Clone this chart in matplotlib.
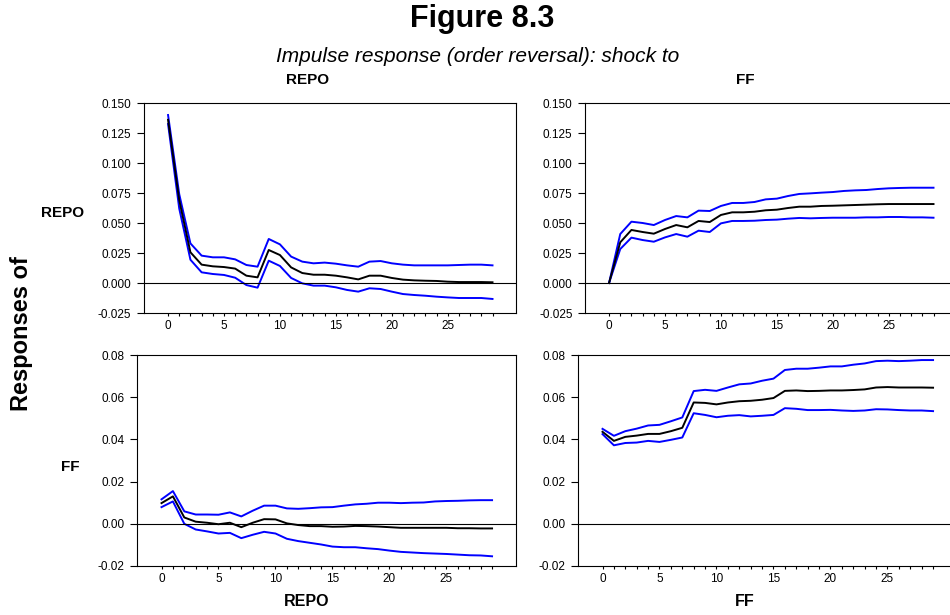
import matplotlib
matplotlib.use('Agg')
import matplotlib.pyplot as plt
from matplotlib.ticker import MultipleLocator, FormatStrFormatter

plt.rcParams['font.family'] = ['Liberation Sans', 'DejaVu Sans']
plt.rcParams['axes.unicode_minus'] = False

periods = list(range(30))

# response of REPO to REPO shock
repo_repo = [0.136, 0.069, 0.0256, 0.0153, 0.0139, 0.0133, 0.012, 0.0061, 0.0047, 0.0275,
             0.0233, 0.013, 0.0083, 0.0069, 0.0069, 0.0061, 0.0047, 0.003, 0.0061, 0.0061,
             0.0042, 0.0028, 0.0022, 0.0019, 0.0017, 0.0011, 0.0008, 0.0008, 0.0008, 0.0006]
repo_repo_hi = [0.140, 0.074, 0.033, 0.0228, 0.0214, 0.0214, 0.0197, 0.015, 0.0136, 0.0367,
                0.0322, 0.022, 0.0178, 0.0164, 0.017, 0.0161, 0.0147, 0.0136, 0.0178, 0.0183,
                0.0164, 0.0153, 0.0147, 0.0147, 0.0147, 0.0147, 0.015, 0.0153, 0.0153, 0.0147]
repo_repo_lo = [0.1325, 0.062, 0.0194, 0.0089, 0.0075, 0.0067, 0.0044, -0.0017, -0.0039, 0.0186,
                0.0142, 0.0042, -0.0003, -0.0022, -0.0022, -0.0036, -0.0058, -0.0072, -0.0044, -0.005,
                -0.0072, -0.0092, -0.01, -0.0106, -0.0114, -0.012, -0.0125, -0.0125, -0.0125, -0.0133]

# response of REPO to FF shock
repo_ff = [0.0, 0.0339, 0.0442, 0.0425, 0.0411, 0.045, 0.0483, 0.0464, 0.0517, 0.0508,
           0.0567, 0.0589, 0.0589, 0.0594, 0.0606, 0.0611, 0.0625, 0.0636, 0.0636, 0.0642,
           0.0644, 0.0647, 0.065, 0.0653, 0.0656, 0.0658, 0.0658, 0.0658, 0.0658, 0.0658]
repo_ff_hi = [0.0, 0.0408, 0.0511, 0.05, 0.0483, 0.0525, 0.0558, 0.0547, 0.0603, 0.06,
              0.0642, 0.0667, 0.0667, 0.0675, 0.0697, 0.0703, 0.0725, 0.0742, 0.0747, 0.0753,
              0.0758, 0.0767, 0.0772, 0.0775, 0.0783, 0.0789, 0.0792, 0.0794, 0.0794, 0.0794]
repo_ff_lo = [0.0, 0.0283, 0.0378, 0.0358, 0.0344, 0.038, 0.0408, 0.0386, 0.0436, 0.0425,
              0.0497, 0.0517, 0.0517, 0.0519, 0.0525, 0.0528, 0.0536, 0.0542, 0.0539, 0.0542,
              0.0544, 0.0544, 0.0544, 0.0547, 0.0547, 0.055, 0.055, 0.0547, 0.0547, 0.0544]

# response of FF to REPO shock
ff_repo = [0.0098, 0.013, 0.003, 0.001, 0.0005, -0.0002, 0.0005, -0.0016, 0.0005, 0.0022,
           0.0021, 0.0002, -0.0006, -0.0011, -0.0011, -0.0014, -0.0013, -0.001, -0.0011, -0.0013,
           -0.0016, -0.0019, -0.0019, -0.0019, -0.0019, -0.0019, -0.0021, -0.0021, -0.0022, -0.0022]
ff_repo_hi = [0.0116, 0.0155, 0.0059, 0.0044, 0.0044, 0.0043, 0.0054, 0.0035, 0.0062, 0.0086,
              0.0086, 0.0073, 0.0071, 0.0074, 0.0078, 0.0079, 0.0086, 0.0092, 0.0095, 0.01,
              0.01, 0.0098, 0.01, 0.0101, 0.0106, 0.0108, 0.0109, 0.0111, 0.0112, 0.0112]
ff_repo_lo = [0.0079, 0.0106, 0.0, -0.0027, -0.0036, -0.0046, -0.0043, -0.0068, -0.0052, -0.0038,
              -0.0046, -0.0071, -0.0082, -0.009, -0.0098, -0.0108, -0.0111, -0.0111, -0.0116, -0.012,
              -0.0127, -0.0133, -0.0136, -0.0139, -0.0141, -0.0143, -0.0146, -0.0149, -0.015, -0.0154]

# response of FF to FF shock
ff_ff = [0.0436, 0.0393, 0.0412, 0.0418, 0.0426, 0.0426, 0.0439, 0.0455, 0.0575, 0.0573,
         0.0566, 0.0575, 0.0581, 0.0583, 0.0588, 0.0596, 0.063, 0.0632, 0.0629, 0.063,
         0.0632, 0.0632, 0.0634, 0.0637, 0.0646, 0.0648, 0.0646, 0.0646, 0.0646, 0.0645]
ff_ff_hi = [0.045, 0.0417, 0.0439, 0.0451, 0.0466, 0.0469, 0.0486, 0.0504, 0.0629, 0.0635,
            0.063, 0.0646, 0.0661, 0.0665, 0.0678, 0.0688, 0.0729, 0.0735, 0.0735, 0.074,
            0.0746, 0.0746, 0.0754, 0.076, 0.0771, 0.0773, 0.0771, 0.0773, 0.0776, 0.0776]
ff_ff_lo = [0.0425, 0.0372, 0.0383, 0.0385, 0.0393, 0.0388, 0.0398, 0.0409, 0.0524, 0.0516,
            0.0505, 0.0512, 0.0515, 0.0509, 0.0512, 0.0516, 0.0548, 0.0545, 0.0539, 0.0539,
            0.054, 0.0537, 0.0535, 0.0537, 0.0543, 0.0542, 0.0539, 0.0537, 0.0537, 0.0534]

W, H = 950, 615
fig = plt.figure(figsize=(W / 100, H / 100), dpi=100)


def px_axes(left, top, right, bottom):
    return fig.add_axes([left / W, 1 - bottom / H, (right - left) / W, (bottom - top) / H])


def draw(ax, mid, hi, lo, ylim, ystep, fmt):
    ax.plot(periods, hi, color='#0000ff', lw=1.4)
    ax.plot(periods, lo, color='#0000ff', lw=1.4)
    ax.plot(periods, mid, color='black', lw=1.4)
    ax.axhline(0, color='black', lw=0.8)
    ax.set_xlim(-2.15, 31.1)
    ax.set_ylim(*ylim)
    ax.yaxis.set_major_locator(MultipleLocator(ystep))
    ax.yaxis.set_major_formatter(FormatStrFormatter(fmt))
    ax.set_xticks(range(0, 30, 5))
    ax.set_xticks(range(0, 30), minor=True)
    ax.tick_params(axis='y', direction='out', length=5, width=0.8, pad=4, labelsize=8.5)
    ax.tick_params(axis='x', which='both', direction='out', length=2.5, width=0.8, pad=2.5, labelsize=8.5)
    for s in ax.spines.values():
        s.set_linewidth(0.8)


ax1 = px_axes(144, 103, 516, 313)
draw(ax1, repo_repo, repo_repo_hi, repo_repo_lo, (-0.025, 0.150), 0.025, '%.3f')
ax2 = px_axes(585, 103, 957, 313)
draw(ax2, repo_ff, repo_ff_hi, repo_ff_lo, (-0.025, 0.150), 0.025, '%.3f')
ax3 = px_axes(137, 355, 516, 566)
draw(ax3, ff_repo, ff_repo_hi, ff_repo_lo, (-0.02, 0.08), 0.02, '%.2f')
ax4 = px_axes(578, 355, 957, 566)
draw(ax4, ff_ff, ff_ff_hi, ff_ff_lo, (-0.02, 0.08), 0.02, '%.2f')

fig.text(482 / W, 1 - 19 / H, 'Figure 8.3', ha='center', va='center', fontsize=22, fontweight='bold')
fig.text(478 / W, 1 - 56 / H, 'Impulse response (order reversal): shock to', ha='center', va='center',
         fontsize=15, style='italic')
fig.text(308 / W, 1 - 80 / H, 'REPO', ha='center', va='center', fontsize=11, fontweight='bold')
fig.text(745 / W, 1 - 80 / H, 'FF', ha='center', va='center', fontsize=11, fontweight='bold')
fig.text(307 / W, 1 - 602 / H, 'REPO', ha='center', va='center', fontsize=11.5, fontweight='bold')
fig.text(745 / W, 1 - 602 / H, 'FF', ha='center', va='center', fontsize=11.5, fontweight='bold')
fig.text(63 / W, 1 - 213 / H, 'REPO', ha='center', va='center', fontsize=11, fontweight='bold')
fig.text(70 / W, 1 - 467 / H, 'FF', ha='center', va='center', fontsize=11, fontweight='bold')
fig.text(22 / W, 1 - 334 / H, 'Responses of', ha='center', va='center', fontsize=17,
         fontweight='bold', rotation=90)

fig.savefig('out.png', dpi=100)
